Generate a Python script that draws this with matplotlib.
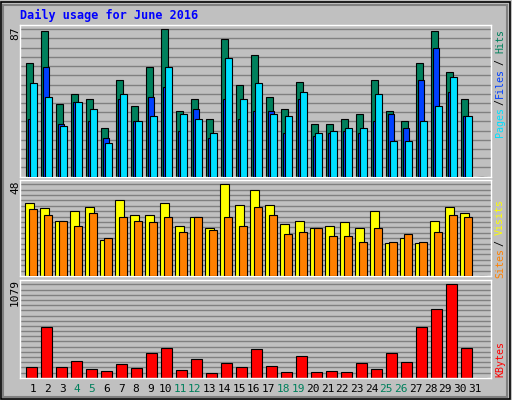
import matplotlib
matplotlib.use("Agg")
import matplotlib.pyplot as plt
from matplotlib.patches import Rectangle
import numpy as np

days = list(range(1, 32))
weekend = [4, 5, 11, 12, 18, 19, 25, 26]
hits  = [67,86,43,49,46,29,57,42,65,87,39,46,34,81,54,72,47,40,56,31,31,34,37,57,39,33,67,86,62,46,0]
files = [34,65,31,44,33,23,46,33,47,53,27,40,23,46,34,39,39,26,46,24,26,27,26,33,37,29,57,76,50,36,0]
pages = [55,47,30,44,40,20,49,33,36,65,37,34,26,70,46,55,37,36,50,26,27,29,29,49,21,21,33,42,59,36,0]
visits = [38,35.5,29,34,36,19,40,32,32,38,26,31,25,48,37,45,37,27,29,25,26,28,25,34,17,20,17,29,36,33,0]
sites  = [35,32,29,26,33,20,31,29,28,31,23,31,24,31,26,36,32,22,23,25,21,21,18,25,18,22,18,23,32,31,0]
kbytes = [122,583,122,193,98,75,158,110,287,347,87,217,51,169,122,335,134,63,252,63,75,63,169,98,287,181,583,795,1079,347,0]

W, H = 512, 400
fig = plt.figure(figsize=(W/100, H/100), dpi=100)
fig.patch.set_facecolor('#c0c0c0')
fig.patches.append(Rectangle((1/W, 1/H), 1-3/W, 1-3/H, transform=fig.transFigure,
                             fill=False, edgecolor='#000000', lw=1.2))
fig.patches.append(Rectangle((3/W, 3/H), 1-8/W, 1-8/H, transform=fig.transFigure,
                             fill=False, edgecolor='#808080', lw=1.5))
mono = 'DejaVu Sans Mono'

def mkax(top, bottom):
    ax = fig.add_axes([20/W, 1-bottom/H, 470.7/W, (bottom-top)/H])
    ax.set_facecolor('#c0c0c0')
    ax.set_xlim(0, 470.7/15)
    ax.set_xticks([]); ax.set_yticks([])
    for s in ax.spines.values():
        s.set_color('white'); s.set_linewidth(1)
    return ax

x = np.arange(31)

def grid(ax, ymax, n):
    for g in np.linspace(0, ymax, n+1)[1:]:
        ax.axhline(g, color='#808080', lw=1, zorder=0)

# top
ax1 = mkax(25, 176.7)
ax1.set_ylim(0, 89.5)
grid(ax1, 87, 16)
ax1.bar(x+0.37, hits, 0.47, align='edge', color='#00805c', edgecolor='black', lw=0.8, zorder=2)
ax1.bar(x+0.50, files, 0.44, align='edge', color='#0040ff', edgecolor='black', lw=0.8, zorder=3)
ax1.bar(x+0.64, pages, 0.47, align='edge', color='#00e0ff', edgecolor='black', lw=0.8, zorder=4)
fig.text(15/W, 1-33/H, '87', rotation=90, fontsize=8, family=mono, ha='center', va='center')

# middle
ax2 = mkax(180, 276)
ax2.set_ylim(0, 50.2)
grid(ax2, 48, 17)
ax2.bar(x+0.36, visits, 0.56, align='edge', color='#ffff00', edgecolor='black', lw=0.8, zorder=2)
ax2.bar(x+0.62, sites, 0.49, align='edge', color='#ff8000', edgecolor='black', lw=0.8, zorder=3)
fig.text(15/W, 1-187/H, '48', rotation=90, fontsize=8, family=mono, ha='center', va='center')

# bottom
ax3 = mkax(280, 377.7)
ax3.set_ylim(0, 1130)
grid(ax3, 1079, 18)
ax3.bar(x+0.42, kbytes, 0.69, align='edge', color='#ff0000', edgecolor='black', lw=0.8, zorder=2)
fig.text(15/W, 1-293/H, '1079', rotation=90, fontsize=8, family=mono, ha='center', va='center')

for d in days:
    px = 20 + 15*(d-1) + 13 - 0.28*(d-1)
    fig.text(px/W, 1-389/H, str(d), fontsize=8, family=mono, ha='center', va='center',
             color='#00805c' if d in weekend else 'black')

fig.text(20/W, 1-15/H, 'Daily usage for June 2016', fontsize=8.5, family=mono,
         weight='bold', color='#0000ff', ha='left', va='center')

def rlabel(y, s, c):
    fig.text(500/W, 1-y/H, s, rotation=90, fontsize=7.2, family=mono, color=c, ha='center', va='center')
rlabel(122, 'Pages', '#00e0ff'); rlabel(102, '/', '#000000')
rlabel(83, 'Files', '#0040ff'); rlabel(62, '/', '#000000')
rlabel(41, 'Hits', '#00805c')
rlabel(263, 'Sites', '#ff8000'); rlabel(243.5, '/', '#000000')
rlabel(217, 'Visits', '#ffff00')
rlabel(359, 'KBytes', '#ff0000')

fig.savefig('out.png', dpi=100, facecolor=fig.get_facecolor())
